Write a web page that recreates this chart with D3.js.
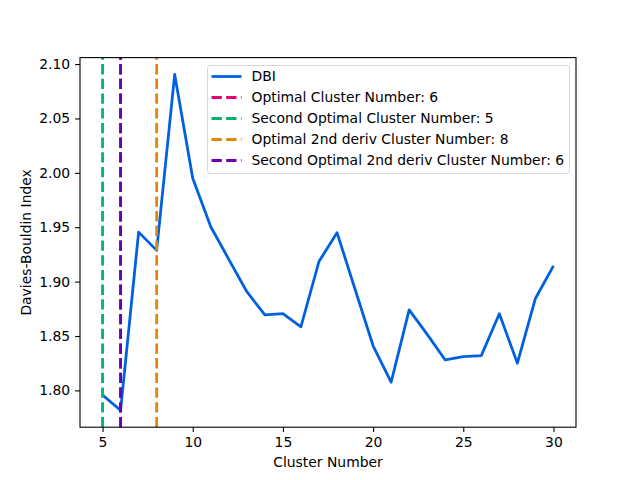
<!DOCTYPE html>
<html>
<head>
<meta charset="utf-8" />
<script src="https://d3js.org/d3.v7.min.js"></script>
<style>
  body { margin: 0; background: #fff; }
  text { font-family: "DejaVu Sans", sans-serif; }
</style>
</head>
<body>
<div id="chart"></div>
<script>
// data
var clusters = d3.range(5, 31)
var dbi = [1.7957, 1.7816, 1.9455, 1.9287, 2.0905, 1.9950, 1.9504, 1.9205, 1.8907,
           1.8695, 1.8705, 1.8585, 1.9185, 1.9450, 1.8930, 1.8410, 1.8075, 1.8740,
           1.8515, 1.8280, 1.8310, 1.8320, 1.8705, 1.8250, 1.8845, 1.9145]
var vlines = [
  {label: "Optimal Cluster Number: 6", x: 6, color: "#e8006f"},
  {label: "Second Optimal Cluster Number: 5", x: 5, color: "#00b26b"},
  {label: "Optimal 2nd deriv Cluster Number: 8", x: 8, color: "#e68600"},
  {label: "Second Optimal 2nd deriv Cluster Number: 6", x: 6, color: "#6b00b3"}
]
var xTicks = [5, 10, 15, 20, 25, 30]
var yTicks = [1.80, 1.85, 1.90, 1.95, 2.00, 2.05, 2.10]

var W = 640, H = 480
var margin = {top: 57.6, right: 64, bottom: 52.8, left: 80}
var width = W - margin.left - margin.right,
    height = H - margin.top - margin.bottom

var svg = d3.select("#chart").append("svg")
  .attr("width", W).attr("height", H)

var g = svg.append("g")
  .attr("transform", "translate(" + margin.left + "," + margin.top + ")")

// matplotlib style 5% margins
var xr = d3.extent(clusters), yr = d3.extent(dbi)
var xpad = (xr[1] - xr[0]) * 0.05, ypad = (yr[1] - yr[0]) * 0.05
var x = d3.scaleLinear().domain([xr[0] - xpad, xr[1] + xpad]).range([0, width])
var y = d3.scaleLinear().domain([yr[0] - ypad, yr[1] + ypad]).range([height, 0])

var line = d3.line()
  .x(function(d, i) { return x(clusters[i]) })
  .y(function(d) { return y(d) })

g.append("path")
  .datum(dbi)
  .attr("d", line)
  .attr("fill", "none")
  .attr("stroke", "#0061e0")
  .attr("stroke-width", 2.78)
  .attr("stroke-linejoin", "round")

g.selectAll(".vline")
  .data(vlines)
  .enter().append("line")
  .attr("class", "vline")
  .attr("x1", function(d) { return x(d.x) })
  .attr("x2", function(d) { return x(d.x) })
  .attr("y1", height).attr("y2", 0)
  .attr("stroke", function(d) { return d.color })
  .attr("stroke-width", 2.78)
  .attr("stroke-dasharray", "10.3,4.4")

// axes
var xAxis = g.append("g")
  .attr("transform", "translate(0," + height + ")")
  .call(d3.axisBottom(x).tickValues(xTicks).tickSize(4.9).tickPadding(4.9).tickFormat(d3.format("d")))
var yAxis = g.append("g")
  .call(d3.axisLeft(y).tickValues(yTicks).tickSize(4.9).tickPadding(4.9).tickFormat(d3.format(".2f")))

;[xAxis, yAxis].forEach(function(a) {
  a.select(".domain").remove()
  a.selectAll(".tick line").attr("stroke", "#000").attr("stroke-width", 1.1)
  a.selectAll(".tick text").attr("fill", "#000").style("font-size", "13.9px")
    .style("font-family", "DejaVu Sans")
})

g.append("rect")
  .attr("width", width).attr("height", height)
  .attr("fill", "none").attr("stroke", "#000").attr("stroke-width", 1.1)

svg.append("text")
  .attr("x", margin.left + width / 2).attr("y", 467)
  .attr("text-anchor", "middle")
  .style("font-size", "13.9px")
  .text("Cluster Number")

svg.append("text")
  .attr("transform", "translate(31," + (margin.top + height / 2) + ") rotate(-90)")
  .attr("text-anchor", "middle")
  .style("font-size", "13.9px")
  .text("Davies-Bouldin Index")

// legend
var legendItems = [{label: "DBI", color: "#0061e0", dash: null}].concat(
  vlines.map(function(d) { return {label: d.label, color: d.color, dash: "10.3,4.4"} }))

var leg = svg.append("g").attr("transform", "translate(207.5,65.5)")
leg.append("rect")
  .attr("width", 362).attr("height", 108)
  .attr("rx", 3).attr("ry", 3)
  .attr("fill", "#fff").attr("fill-opacity", 0.8)
  .attr("stroke", "#d6d6d6").attr("stroke-width", 1)

var items = leg.selectAll(".item")
  .data(legendItems)
  .enter().append("g")
  .attr("transform", function(d, i) { return "translate(0," + (11 + i * 21) + ")" })

items.append("line")
  .attr("x1", 4).attr("x2", 34)
  .attr("stroke", function(d) { return d.color })
  .attr("stroke-width", 2.78)
  .attr("stroke-dasharray", function(d) { return d.dash })

items.append("text")
  .attr("x", 44).attr("dy", "0.35em")
  .style("font-size", "13.9px")
  .text(function(d) { return d.label })
</script>
</body>
</html>
